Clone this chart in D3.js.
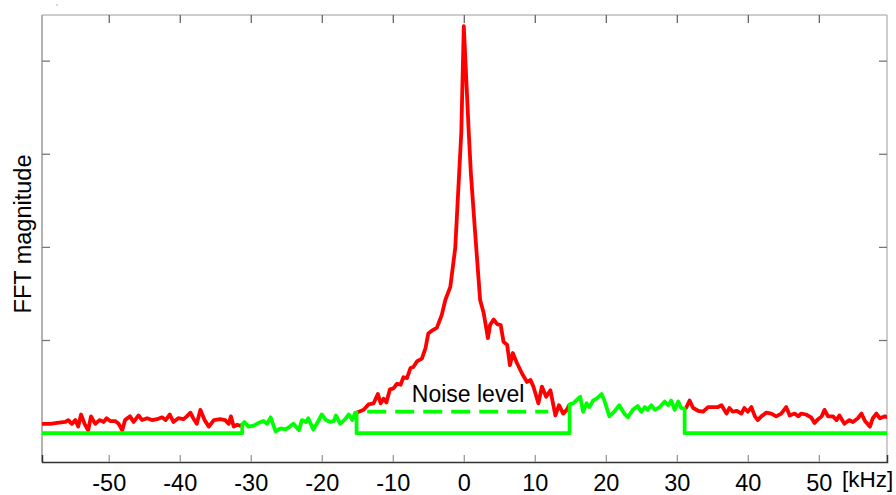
<!DOCTYPE html>
<html>
<head>
<meta charset="utf-8">
<script src="https://cdn.jsdelivr.net/npm/d3@7"></script>
<style>
  body { margin: 0; background: #fff; }
  text { font-family: "Liberation Sans", Arial, sans-serif; }
</style>
</head>
<body>
<svg id="fftSvg" width="896" height="495"></svg>
<script>
// spectrum (kHz, arbitrary magnitude)
var freqs = [
  -59.4,-58.2,-57.3,-56.1,-55.7,-55.2,-54.7,-54.3,-53.9,-53.4,-52.9,-52.5,-51.9,-51.3,-50.7,-50.3,-49.8,-49.1,-48.6,-48.1,
  -47.7,-47.0,-46.5,-45.8,-45.3,-44.6,-43.9,-43.2,-42.5,-42.0,-41.4,-40.9,-40.2,-39.5,-39.0,-38.5,-38.1,-37.6,-37.1,-36.5,
  -35.9,-35.2,-34.3,-33.6,-33.1,-32.8,-32.4,-31.9,-31.5,-31.2,
  -30.9,-30.3,-29.6,-28.9,-28.2,-27.7,-27.2,-26.5,-25.8,-25.1,-24.5,-24.0,-23.2,-22.8,-22.2,-21.9,-21.2,-20.7,-20.0,-19.4,
  -18.8,-18.3,-18.0,-17.4,-16.7,-16.2,-15.7,-15.3,-15.1,
  -14.1,-13.4,-12.7,-12.1,-11.7,-11.3,-10.9,-10.4,-9.9,-9.4,-8.9,-8.5,-8.0,-7.5,-7.1,-6.6,-5.9,-5.4,-5.0,-4.5,
  -3.8,-3.1,-2.6,-1.9,-1.2,-0.35,0,0.7,1.0,1.6,2.3,2.8,3.4,3.7,4.2,4.7,5.2,5.6,6.1,6.5,
  6.9,7.5,8.2,8.9,9.4,9.8,10.5,11.0,11.6,12.2,12.9,13.4,14.0,14.5,14.9,
  15.4,16.1,16.4,16.8,17.3,17.7,18.2,18.7,19.4,19.8,20.5,21.2,21.9,22.6,23.1,23.8,24.5,25.0,25.5,25.9,
  26.4,26.9,27.6,28.3,28.8,29.2,29.7,30.2,30.6,31.1,
  31.3,31.8,32.3,33.0,33.7,34.4,35.1,35.8,36.3,37.0,37.4,37.9,38.4,39.1,39.5,40.0,40.5,41.0,41.4,41.9,
  42.6,43.3,44.0,44.7,45.4,45.9,46.6,47.1,47.5,48.2,48.9,49.4,49.9,50.4,50.8,51.3,52.0,52.5,52.9,53.6,
  54.3,54.8,55.5,56.0,56.5,57.2,57.6,58.1,58.6,59.3,59.7
];
var magnitude = [
  1.0,1.0,1.1,1.2,1.4,1.0,1.4,0.7,2.0,1.0,0.3,1.8,1.0,1.4,1.2,1.6,1.3,1.3,1.0,0.3,
  1.4,1.8,1.2,1.9,1.4,1.6,1.4,1.5,1.7,1.4,2.0,1.2,1.6,1.5,1.8,2.2,1.6,1.0,2.5,1.4,
  0.7,1.4,1.5,1.4,1.0,1.8,0.7,0.9,0.8,0.9,
  1.2,0.7,0.8,1.1,1.3,1.0,1.7,0.2,0.5,0.4,0.7,1.0,0.3,1.4,1.2,1.6,0.4,1.0,2.0,1.4,
  1.2,1.3,1.9,1.0,1.5,2.0,1.4,2.2,2.2,
  2.5,3.1,3.2,4.2,3.2,3.7,3.3,4.7,4.8,5.3,5.2,6.0,5.9,7.0,7.1,7.7,8.0,9.1,10.7,11.0,
  11.3,12.7,14.3,15.7,19.9,32.3,43.7,32.3,27.9,21.5,14.3,12.9,10.2,11.6,12.2,11.7,11.6,9.8,9.5,7.3,
  8.6,7.5,6.4,5.5,5.7,5.0,3.2,5.0,3.9,4.6,1.9,3.0,2.1,2.5,3.1,
  3.2,3.7,3.9,2.3,3.2,2.8,3.5,3.7,4.2,3.5,1.8,2.3,3.0,2.1,1.7,2.5,2.9,2.3,2.8,2.5,
  3.0,2.5,2.8,3.4,3.0,3.5,2.5,3.4,2.7,2.6,
  2.7,3.5,2.7,2.4,2.3,2.8,2.8,2.8,3.0,2.1,2.7,2.3,2.4,2.1,2.7,2.3,2.8,1.8,1.4,1.8,
  2.2,2.1,1.8,2.1,2.8,1.9,2.1,1.8,2.1,2.0,1.7,1.1,1.5,1.8,2.5,1.8,1.8,1.4,1.9,1.0,
  1.4,1.2,1.6,2.1,1.3,0.7,1.6,2.1,1.6,1.8,1.7
];
// filter pass bands (green part)
var bandStart = [-31.2, 14.9];
var bandEnd = [-15.1, 31.1];
var noiseFrom = -13.6, noiseTo = 11.9, noiseLevel = 2.3;
var xTicks = [-50, -40, -30, -20, -10, 0, 10, 20, 30, 40, 50];
var yTicks = [0, 10, 20, 30, 40];

var svg = d3.select("#fftSvg");
var pLeft = 42, pTop = 15, pRight = 887, pBottom = 462;

var x = d3.scaleLinear().domain([-59.4, 59.6]).range([pLeft, pRight]);
var y = d3.scaleLinear().domain([-3.1, 44.9]).range([pBottom, pTop]);

var data = freqs.map(function(f, i) { return { f: f, v: magnitude[i] }; });

function inBand(f) {
  for (var b = 0; b < bandStart.length; b++) {
    if (f >= bandStart[b] && f <= bandEnd[b]) return true;
  }
  return false;
}
function isEdge(f) {
  return bandStart.indexOf(f) >= 0 || bandEnd.indexOf(f) >= 0;
}

svg.append("defs").append("clipPath").attr("id", "plotClip")
  .append("rect").attr("x", pLeft).attr("y", pTop)
  .attr("width", pRight - pLeft).attr("height", pBottom - pTop);

// frame + ticks
var frame = svg.append("g").attr("class", "frame");
frame.append("line").attr("x1", pLeft).attr("x2", pRight).attr("y1", pTop).attr("y2", pTop)
  .attr("stroke", "#bdbdbd").attr("stroke-width", 1.5);
frame.append("line").attr("x1", pRight).attr("x2", pRight).attr("y1", pTop).attr("y2", pBottom)
  .attr("stroke", "#bdbdbd").attr("stroke-width", 1.5);
frame.append("line").attr("x1", pLeft).attr("x2", pLeft).attr("y1", pTop).attr("y2", pBottom)
  .attr("stroke", "#9a9a9a").attr("stroke-width", 1.5);

var xAxis = svg.append("g")
  .attr("transform", "translate(0," + pBottom + ")")
  .call(d3.axisBottom(x).tickValues(xTicks).tickSize(-7).tickPadding(12)
    .tickFormat(function(d) { return String(d); }));
xAxis.select(".domain").attr("stroke", "#333").attr("stroke-width", 1.5);
xAxis.selectAll(".tick line").attr("stroke", "#999").attr("stroke-width", 1.3);
xAxis.selectAll("text").attr("font-size", 23.5).attr("fill", "#000")
  .attr("font-family", "'Liberation Sans', Arial, sans-serif");

var xTop = svg.append("g")
  .attr("transform", "translate(0," + pTop + ")")
  .call(d3.axisTop(x).tickValues(xTicks).tickSize(-8).tickFormat(""));
xTop.select(".domain").remove();
xTop.selectAll(".tick line").attr("stroke", "#666").attr("stroke-width", 1.3);

var yLeft = svg.append("g")
  .attr("transform", "translate(" + pLeft + ",0)")
  .call(d3.axisLeft(y).tickValues(yTicks).tickSize(-8).tickFormat(""));
yLeft.select(".domain").remove();
yLeft.selectAll(".tick line").attr("stroke", "#777").attr("stroke-width", 1.3);

var yRight = svg.append("g")
  .attr("transform", "translate(" + pRight + ",0)")
  .call(d3.axisRight(y).tickValues(yTicks).tickSize(-8).tickFormat(""));
yRight.select(".domain").remove();
yRight.selectAll(".tick line").attr("stroke", "#777").attr("stroke-width", 1.3);

svg.append("text")
  .attr("x", 842).attr("y", 487)
  .attr("font-size", 22.5)
  .text("[kHz]");

svg.append("text")
  .attr("transform", "translate(31,234) rotate(-90)")
  .attr("text-anchor", "middle")
  .attr("font-size", 23.5)
  .text("FFT magnitude");

svg.append("text")
  .attr("x", 56).attr("y", 6)
  .attr("font-size", 4).attr("fill", "#888")
  .text("s");

var plot = svg.append("g").attr("clip-path", "url(#plotClip)");

// green: spectrum inside bands, zero elsewhere, with steps at edges
var greenPts = [];
data.forEach(function(d) {
  if (bandStart.indexOf(d.f) >= 0) {
    greenPts.push({ f: d.f, v: 0 });
    greenPts.push(d);
  } else if (bandEnd.indexOf(d.f) >= 0) {
    greenPts.push(d);
    greenPts.push({ f: d.f, v: 0 });
  } else {
    greenPts.push({ f: d.f, v: inBand(d.f) ? d.v : 0 });
  }
});

// red: spectrum outside the pass bands
plot.append("path")
  .datum(data)
  .attr("fill", "none")
  .attr("stroke", "#ff0000")
  .attr("stroke-width", 3.8)
  .attr("stroke-linejoin", "round")
  .attr("d", d3.line()
    .defined(function(d) { return !inBand(d.f) || isEdge(d.f); })
    .x(function(d) { return x(d.f); })
    .y(function(d) { return y(d.v); }));

plot.append("path")
  .datum(greenPts)
  .attr("fill", "none")
  .attr("stroke", "#00ff00")
  .attr("stroke-width", 3.8)
  .attr("stroke-linejoin", "round")
  .attr("d", d3.line()
    .x(function(d) { return x(d.f); })
    .y(function(d) { return y(d.v); }));

plot.append("line")
  .attr("x1", x(noiseFrom)).attr("x2", x(noiseTo))
  .attr("y1", y(noiseLevel)).attr("y2", y(noiseLevel))
  .attr("stroke", "#00ff00")
  .attr("stroke-width", 3.8)
  .attr("stroke-dasharray", "19,9");

svg.append("text")
  .attr("x", x(0.6)).attr("y", 402)
  .attr("text-anchor", "middle")
  .attr("font-size", 23)
  .text("Noise level");
</script>
</body>
</html>
